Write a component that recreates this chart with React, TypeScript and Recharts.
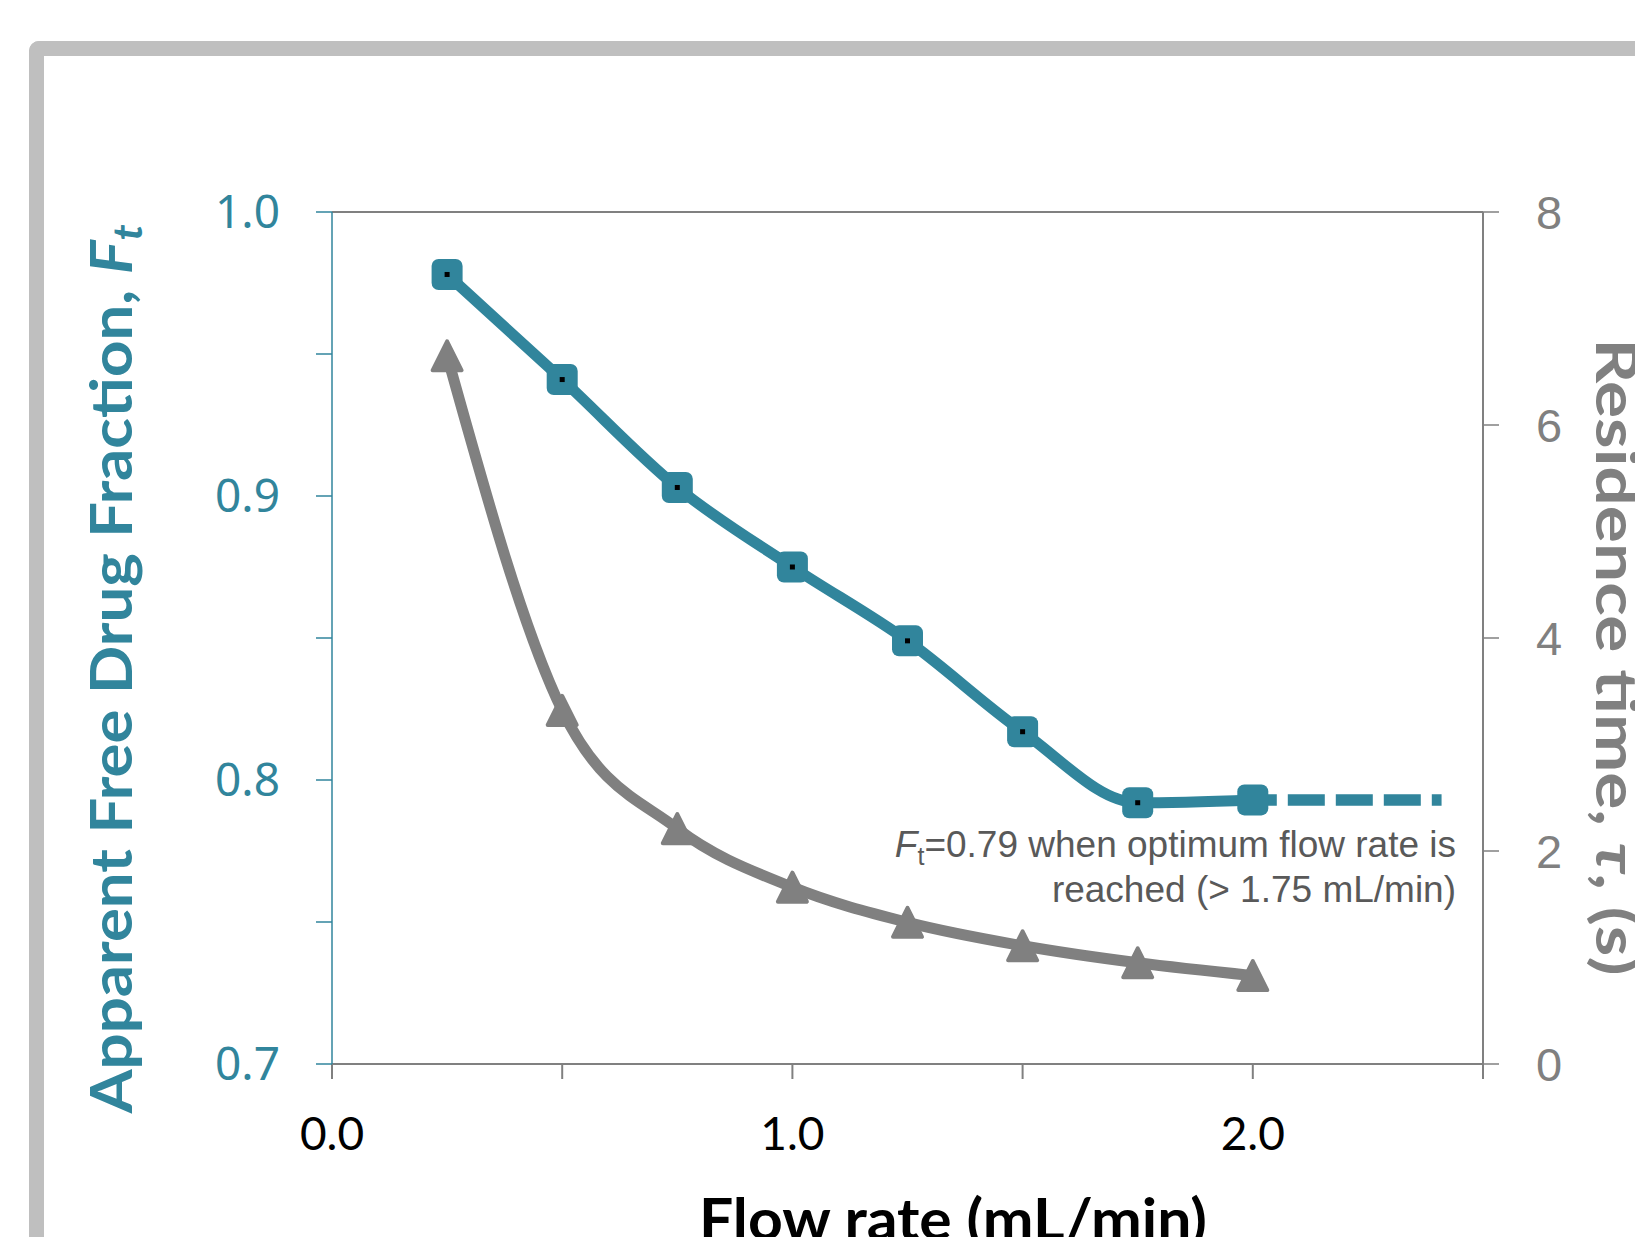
import { ComposedChart, Line, XAxis, YAxis, ReferenceLine } from 'recharts';

// flow rate (mL/min) and the two measured series
const flowRate = [0.25, 0.5, 0.75, 1.0, 1.25, 1.5, 1.75, 2.0];
const freeFraction = [0.978, 0.941, 0.903, 0.875, 0.849, 0.817, 0.792, 0.793];
const residenceTime = [6.65, 3.32, 2.21, 1.66, 1.33, 1.11, 0.95, 0.83];
const centreMark = [true, true, true, true, true, true, true, false];

// dashed plateau past the optimum flow rate
const plateauFlow = [2.0, 2.41];
const plateauFraction = [0.793, 0.793];

const xTicks = [0, 0.5, 1.0, 1.5, 2.0, 2.5];
const ftTicks = [0.7, 0.75, 0.8, 0.85, 0.9, 0.95, 1.0];
const tauTicks = [0, 2, 4, 6, 8];

const TEAL = '#31859C';
const GREY = '#808080';

const rows = flowRate.map((x, i) => ({
  x,
  ft: freeFraction[i],
  tau: residenceTime[i],
  mark: centreMark[i],
}));
const plateauRows = plateauFlow.map((x, i) => ({ x, ft: plateauFraction[i] }));

function SquareDot(props: any) {
  const { cx, cy, payload, index } = props;
  if (cx == null || cy == null) return null;
  return (
    <g key={`sq-${index}`}>
      <rect x={cx - 15.5} y={cy - 15.5} width={31} height={31} rx={7} fill={TEAL} />
      {payload.mark && <rect x={cx - 2.5} y={cy - 2.5} width={5} height={5} fill="#000" />}
    </g>
  );
}

function TriangleDot(props: any) {
  const { cx, cy, index } = props;
  if (cx == null || cy == null) return null;
  return (
    <path
      key={`tri-${index}`}
      d={`M${cx},${cy - 14.5} L${cx + 14.5},${cy + 14.5} L${cx - 14.5},${cy + 14.5} Z`}
      fill={GREY}
      stroke={GREY}
      strokeWidth={4}
      strokeLinejoin="round"
    />
  );
}

export default function App() {
  return (
    <div style={{ position: 'absolute', left: 0, top: 0, width: 1635, height: 1237, overflow: 'hidden', background: '#fff' }}>
      <div
        style={{
          position: 'absolute',
          left: 29,
          top: 41,
          width: 1800,
          height: 1400,
          borderTop: '15px solid #bfbfbf',
          borderLeft: '15px solid #bfbfbf',
          borderTopLeftRadius: 10,
        }}
      />
      <div style={{ position: 'absolute', left: 0, top: 0 }}>
        <ComposedChart width={1635} height={1237} data={rows} margin={{ top: 212, right: 0, bottom: 0, left: 0 }}>
          <XAxis
            dataKey="x"
            type="number"
            domain={[0, 2.5]}
            ticks={xTicks}
            height={173}
            tickSize={15}
            tickMargin={38}
            axisLine={{ stroke: GREY, strokeWidth: 2 }}
            tickLine={{ stroke: GREY, strokeWidth: 2 }}
            tickFormatter={(v: number) => (Math.round(v * 10) % 10 === 0 ? v.toFixed(1) : '')}
            tick={{ fill: '#000', fontSize: 46, fontFamily: 'Lato' }}
            interval={0}
          />
          <YAxis
            yAxisId="ft"
            type="number"
            domain={[0.7, 1.0]}
            ticks={ftTicks}
            width={332}
            tickSize={16}
            tickMargin={36}
            axisLine={{ stroke: TEAL, strokeWidth: 1.5 }}
            tickLine={{ stroke: TEAL, strokeWidth: 1.5 }}
            tickFormatter={(v: number) => (Math.round(v * 100) % 10 === 0 ? v.toFixed(1) : '')}
            tick={{ fill: TEAL, fontSize: 46, fontFamily: 'Noto Sans' }}
            interval={0}
          />
          <YAxis
            yAxisId="tau"
            orientation="right"
            type="number"
            domain={[0, 8]}
            ticks={tauTicks}
            width={152}
            tickSize={16}
            tickMargin={37}
            axisLine={{ stroke: GREY, strokeWidth: 2 }}
            tickLine={{ stroke: GREY, strokeWidth: 1.5 }}
            tick={{ fill: GREY, fontSize: 47, fontFamily: 'Liberation Sans' }}
            interval={0}
          />
          <ReferenceLine yAxisId="ft" y={1.0} stroke={GREY} strokeWidth={2} />
          <Line
            yAxisId="tau"
            dataKey="tau"
            type="monotone"
            stroke={GREY}
            strokeWidth={11}
            strokeLinejoin="round"
            dot={<TriangleDot />}
            activeDot={false}
            isAnimationActive={false}
          />
          <Line
            yAxisId="ft"
            data={plateauRows}
            dataKey="ft"
            type="linear"
            stroke={TEAL}
            strokeWidth={11.5}
            strokeDasharray="37 11"
            strokeDashoffset={13}
            dot={false}
            activeDot={false}
            isAnimationActive={false}
          />
          <Line
            yAxisId="ft"
            dataKey="ft"
            type="monotone"
            stroke={TEAL}
            strokeWidth={11}
            strokeLinejoin="round"
            dot={<SquareDot />}
            activeDot={false}
            isAnimationActive={false}
          />
        </ComposedChart>
      </div>
      <svg width={1635} height={1237} style={{ position: 'absolute', left: 0, top: 0, pointerEvents: 'none' }}>
        <text
          transform="translate(132,669) rotate(-90)"
          textAnchor="middle"
          fontFamily="Lato"
          fontWeight={700}
          fontSize={58}
          fill={TEAL}
          textLength={889}
          lengthAdjust="spacingAndGlyphs"
        >
          Apparent Free Drug Fraction, <tspan fontStyle="italic">F</tspan>
          <tspan fontStyle="italic" fontSize={40} dy={10}>t</tspan>
        </text>
        <text
          transform="translate(1596,657) rotate(90)"
          textAnchor="middle"
          fontFamily="Lato"
          fontWeight={700}
          fontSize={58}
          fill={GREY}
          textLength={637}
          lengthAdjust="spacingAndGlyphs"
        >
          Residence time, <tspan fontStyle="italic">τ</tspan>, (s)
        </text>
        <text
          x={953}
          y={1240}
          textAnchor="middle"
          fontFamily="Lato"
          fontWeight={700}
          fontSize={58}
          fill="#000"
          textLength={508}
          lengthAdjust="spacingAndGlyphs"
        >
          Flow rate (mL/min)
        </text>
        <text x={1456} y={857} textAnchor="end" fontFamily="Liberation Sans" fontSize={37} fill="#595959">
          <tspan fontStyle="italic">F</tspan>
          <tspan fontSize={25} dy={8}>t</tspan>
          <tspan dy={-8}>=0.79 when optimum flow rate is</tspan>
        </text>
        <text x={1456} y={902} textAnchor="end" fontFamily="Liberation Sans" fontSize={37} fill="#595959">
          reached (&gt; 1.75 mL/min)
        </text>
      </svg>
    </div>
  );
}
